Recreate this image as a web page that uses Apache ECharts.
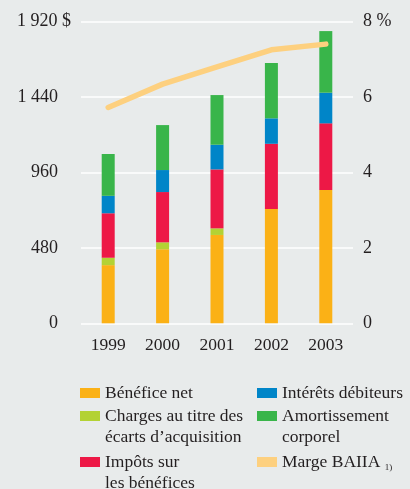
<!DOCTYPE html>
<html>
<head>
<meta charset="utf-8">
<script src="https://cdn.jsdelivr.net/npm/echarts@6/dist/echarts.min.js"></script>
<style>
  html, body { margin: 0; padding: 0; background: #e8ebeb; }
  #chart { width: 410px; height: 489px; }
</style>
</head>
<body>
<div id="chart"></div>
<script>
// Years and stacked components (millions $)
const years = ['1999', '2000', '2001', '2002', '2003'];
const beneficeNet = [370, 471, 562, 727, 848];
const chargesEcarts = [47, 44, 42, 0, 0];
const impots = [283, 320, 375, 415, 424];
const interets = [111, 140, 157, 162, 195];
const amortissement = [266, 286, 316, 352, 392];
// EBITDA margin (%)
const margeBAIIA = [5.72, 6.34, 6.80, 7.25, 7.40];

// Axis tick labels
const leftTicks = ['0', '480', '960', '1 440', '1 920 $'];
const rightTicks = ['0', '2', '4', '6', '8 %'];

const FONT = '"Liberation Serif", "DejaVu Serif", serif';
const TXT = '#231f20';

const chart = echarts.init(document.getElementById('chart'), null, { renderer: 'canvas' });

function legendAt(name, left, top, twoLines, fmt) {
  return {
    data: [name],
    left: left,
    top: top,
    padding: 0,
    icon: 'rect',
    itemWidth: 20,
    itemHeight: 10,
    itemGap: 0,
    selectedMode: false,
    formatter: fmt || undefined,
    textStyle: {
      fontFamily: FONT,
      fontSize: 17.5,
      color: TXT,
      lineHeight: 21,
      padding: twoLines ? [21, 0, 0, 0] : 0,
      rich: {
        sup: { fontFamily: FONT, fontSize: 9, color: TXT, verticalAlign: 'bottom' }
      }
    }
  };
}

const option = {
  backgroundColor: '#e8ebeb',
  animation: false,
  grid: { left: 81, right: 57, top: 21.5, bottom: 165.7 },
  xAxis: {
    type: 'category',
    data: years,
    axisLine: { show: false },
    axisTick: { show: false },
    axisLabel: { fontFamily: FONT, fontSize: 17.5, color: TXT, margin: 13 }
  },
  yAxis: [
    {
      type: 'value',
      min: 0, max: 1920, interval: 480,
      axisLine: { show: false },
      axisTick: { show: false },
      splitLine: { lineStyle: { color: '#ffffff', width: 1.5 } },
      axisLabel: {
        margin: 10,
        formatter: function (v) {
          const i = Math.round(v / 480);
          const t = leftTicks[i];
          return i === leftTicks.length - 1 ? '{a|' + t + '}' : '{b|' + t + '}';
        },
        rich: {
          a: { fontFamily: FONT, fontSize: 18, color: TXT },
          b: { fontFamily: FONT, fontSize: 18, color: TXT, padding: [0, 13, 0, 0] }
        }
      }
    },
    {
      type: 'value',
      min: 0, max: 8, interval: 2,
      axisLine: { show: false },
      axisTick: { show: false },
      splitLine: { show: false },
      axisLabel: {
        margin: 10,
        fontFamily: FONT, fontSize: 18, color: TXT,
        formatter: function (v) { return rightTicks[Math.round(v / 2)]; }
      }
    }
  ],
  legend: [
    legendAt('Bénéfice net', 80, 382.5, false),
    legendAt('Charges au titre des\nécarts d’acquisition', 80, 384.5, true),
    legendAt('Impôts sur\nles bénéfices', 80, 430.5, true),
    legendAt('Intérêts débiteurs', 257, 382.5, false),
    legendAt('Amortissement\ncorporel', 257, 384.5, true),
    legendAt('Marge BAIIA', 257, 451.5, false, function (n) { return n + ' {sup|1)}'; })
  ],
  series: [
    { name: 'Bénéfice net', type: 'bar', stack: 'tot', barWidth: 13, data: beneficeNet, itemStyle: { color: '#fbb116' } },
    { name: 'Charges au titre des\nécarts d’acquisition', type: 'bar', stack: 'tot', barWidth: 13, data: chargesEcarts, itemStyle: { color: '#b3d234' } },
    { name: 'Impôts sur\nles bénéfices', type: 'bar', stack: 'tot', barWidth: 13, data: impots, itemStyle: { color: '#ed1846' } },
    { name: 'Intérêts débiteurs', type: 'bar', stack: 'tot', barWidth: 13, data: interets, itemStyle: { color: '#0085c8' } },
    { name: 'Amortissement\ncorporel', type: 'bar', stack: 'tot', barWidth: 13, data: amortissement, itemStyle: { color: '#39b54a' } },
    {
      name: 'Marge BAIIA', type: 'line', yAxisIndex: 1, data: margeBAIIA,
      symbol: 'none', z: 5,
      lineStyle: { color: '#fdd07f', width: 5.5, cap: 'round', join: 'round' },
      itemStyle: { color: '#fdd07f' }
    }
  ]
};

chart.setOption(option);
</script>
</body>
</html>
